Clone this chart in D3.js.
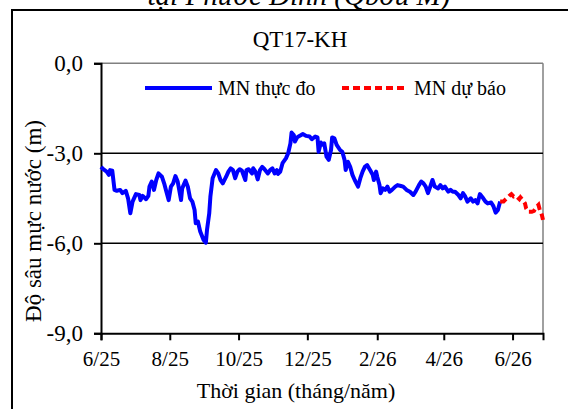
<!DOCTYPE html>
<html><head><meta charset="utf-8">
<script src="https://cdn.jsdelivr.net/npm/d3@7/dist/d3.min.js"></script>
<style>html,body{margin:0;padding:0;background:#fff;}svg text{font-family:"Liberation Serif","Times New Roman",Times,serif;}</style>
</head><body>
<svg id="c" width="568" height="409"></svg>
<script>
const obsDates = ["2025-06-01","2025-06-03","2025-06-06","2025-06-08","2025-06-09","2025-06-11","2025-06-13","2025-06-15","2025-06-18","2025-06-20","2025-06-23","2025-06-25","2025-06-27","2025-06-29","2025-07-02","2025-07-05","2025-07-06","2025-07-08","2025-07-11","2025-07-13","2025-07-14","2025-07-16","2025-07-18","2025-07-20","2025-07-22","2025-07-25","2025-07-27","2025-07-29","2025-07-31","2025-08-02","2025-08-04","2025-08-06","2025-08-08","2025-08-11","2025-08-12","2025-08-15","2025-08-17","2025-08-19","2025-08-21","2025-08-23","2025-08-24","2025-08-26","2025-08-28","2025-08-31","2025-09-02","2025-09-03","2025-09-05","2025-09-06","2025-09-08","2025-09-11","2025-09-13","2025-09-15","2025-09-17","2025-09-20","2025-09-22","2025-09-24","2025-09-26","2025-09-28","2025-09-30","2025-10-02","2025-10-04","2025-10-07","2025-10-08","2025-10-10","2025-10-13","2025-10-14","2025-10-16","2025-10-18","2025-10-20","2025-10-22","2025-10-24","2025-10-27","2025-10-29","2025-10-31","2025-11-02","2025-11-04","2025-11-05","2025-11-07","2025-11-09","2025-11-12","2025-11-14","2025-11-16","2025-11-17","2025-11-19","2025-11-20","2025-11-22","2025-11-24","2025-11-27","2025-11-30","2025-12-03","2025-12-05","2025-12-08","2025-12-10","2025-12-11","2025-12-13","2025-12-15","2025-12-16","2025-12-18","2025-12-20","2025-12-22","2025-12-23","2025-12-25","2025-12-27","2025-12-30","2026-01-01","2026-01-03","2026-01-04","2026-01-06","2026-01-08","2026-01-10","2026-01-12","2026-01-15","2026-01-17","2026-01-19","2026-01-21","2026-01-23","2026-01-26","2026-01-28","2026-01-29","2026-01-31","2026-02-01","2026-02-03","2026-02-04","2026-02-06","2026-02-08","2026-02-10","2026-02-12","2026-02-14","2026-02-17","2026-02-19","2026-02-22","2026-02-24","2026-02-27","2026-03-02","2026-03-05","2026-03-07","2026-03-10","2026-03-12","2026-03-14","2026-03-16","2026-03-18","2026-03-20","2026-03-22","2026-03-24","2026-03-27","2026-03-29","2026-03-31","2026-04-02","2026-04-05","2026-04-07","2026-04-09","2026-04-11","2026-04-14","2026-04-16","2026-04-18","2026-04-20","2026-04-22","2026-04-25","2026-04-27","2026-04-29","2026-05-01","2026-05-03","2026-05-06","2026-05-08","2026-05-10","2026-05-13","2026-05-15","2026-05-17","2026-05-19","2026-05-21"];
const obsValues = [-3.45,-3.53,-3.61,-3.72,-3.56,-3.58,-4.22,-4.25,-4.22,-4.33,-4.25,-4.50,-5.00,-4.61,-4.36,-4.39,-4.56,-4.42,-4.53,-4.42,-4.11,-3.94,-4.22,-3.89,-3.67,-3.78,-4.00,-4.28,-4.56,-4.11,-4.00,-3.76,-3.94,-4.56,-4.17,-3.91,-4.11,-4.50,-4.61,-4.89,-5.33,-5.28,-5.61,-5.89,-5.98,-5.56,-5.00,-4.45,-3.83,-3.56,-3.67,-3.89,-4.00,-3.78,-3.61,-3.50,-3.56,-3.83,-3.61,-3.53,-3.58,-3.89,-3.56,-3.53,-3.67,-3.50,-3.61,-3.87,-3.56,-3.45,-3.53,-3.67,-3.56,-3.50,-3.67,-3.56,-3.69,-3.61,-3.33,-3.17,-3.00,-2.67,-2.31,-2.39,-2.61,-2.47,-2.42,-2.36,-2.42,-2.44,-2.53,-2.44,-2.47,-2.95,-2.64,-2.72,-2.67,-3.11,-3.22,-2.89,-2.47,-2.50,-2.72,-2.89,-2.95,-3.22,-3.56,-3.28,-3.45,-3.72,-3.89,-4.11,-3.83,-3.61,-3.45,-3.39,-3.58,-3.72,-3.89,-3.61,-3.78,-4.06,-4.33,-4.17,-4.22,-4.11,-4.28,-4.22,-4.11,-4.06,-4.09,-4.11,-4.22,-4.28,-4.39,-4.28,-4.06,-3.94,-4.00,-4.11,-4.33,-4.11,-3.89,-4.11,-4.17,-4.06,-4.17,-4.11,-4.28,-4.22,-4.28,-4.28,-4.39,-4.50,-4.33,-4.44,-4.61,-4.50,-4.61,-4.56,-4.67,-4.36,-4.50,-4.61,-4.67,-4.64,-4.76,-4.98,-4.89,-4.61];
const fcDates = ["2026-05-21","2026-05-24","2026-05-26","2026-05-29","2026-05-31","2026-06-02","2026-06-04","2026-06-07","2026-06-08","2026-06-10","2026-06-12","2026-06-13","2026-06-15","2026-06-18","2026-06-20","2026-06-22","2026-06-24","2026-06-25","2026-06-27","2026-06-28"];
const fcValues = [-4.61,-4.61,-4.53,-4.42,-4.36,-4.44,-4.42,-4.53,-4.47,-4.56,-4.67,-4.83,-4.95,-4.95,-4.92,-4.80,-4.72,-4.86,-5.06,-5.22];
const yTicks = [0, -3, -6, -9];
const gridValues = [-3, -6];
const xTickDates = ["2025-06-01","2025-08-01","2025-10-01","2025-12-01","2026-02-01","2026-04-01","2026-06-01"];
const xTickLabels = ["6/25","8/25","10/25","12/25","2/26","4/26","6/26"];
const xDomain = ["2025-06-01","2026-06-28"];
const legendLabels = ["MN thực đo","MN dự báo"];
const chartTitle = "QT17-KH";
const topText = "tại Phước Đinh (Qbơu M)";
const yTitle = "Độ sâu mực nước (m)";
const xTitle = "Thời gian  (tháng/năm)";

const FONT = "'Liberation Serif','Times New Roman',Times,serif";
const parse = d3.timeParse("%Y-%m-%d");
const svg = d3.select("#c");
const L = 101, R = 543, T = 63.3, B = 333.3;

const x = d3.scaleTime().domain(xDomain.map(parse)).range([L, R]);
const y = d3.scaleLinear().domain([-9, 0]).range([B, T]);

// outer frame
svg.append("rect").attr("x", 12).attr("y", 10).attr("width", 620).attr("height", 450)
  .attr("fill", "none").attr("stroke", "#000").attr("stroke-width", 2);

// top clipped text
svg.append("text").attr("x", 299).attr("y", 5).attr("text-anchor", "middle")
  .attr("font-family", FONT).attr("font-size", 29).attr("font-style", "italic").text(topText);

// title
svg.append("text").attr("x", 300).attr("y", 47).attr("text-anchor", "middle")
  .attr("font-family", FONT).attr("font-size", 23).text(chartTitle);

// plot border (gray top/right)
svg.append("line").attr("x1", L).attr("x2", R).attr("y1", y(0)).attr("y2", y(0))
  .attr("stroke", "#808080").attr("stroke-width", 1.5);
svg.append("line").attr("x1", R).attr("x2", R).attr("y1", y(0)).attr("y2", y(-9))
  .attr("stroke", "#808080").attr("stroke-width", 1.5);

// gridlines
svg.selectAll(".grid").data(gridValues).join("line").attr("class", "grid")
  .attr("x1", L).attr("x2", R).attr("y1", d => y(d)).attr("y2", d => y(d))
  .attr("stroke", "#000").attr("stroke-width", 1.5);

// y axis
const yAxis = d3.axisLeft(y).tickValues(yTicks).tickSize(7).tickPadding(11)
  .tickFormat(d => d3.format(".1f")(d).replace(".", ",").replace("−", "-"));
const gy = svg.append("g").attr("transform", `translate(${L},0)`).call(yAxis)
  .attr("font-family", FONT).attr("font-size", 23);
gy.select(".domain").attr("stroke", "#000").attr("stroke-width", 2);
gy.selectAll(".tick line").attr("stroke", "#000").attr("stroke-width", 2);
gy.selectAll(".tick text").attr("fill", "#000");

// x axis
const xAxis = d3.axisBottom(x).tickValues(xTickDates.map(parse)).tickSize(7).tickPadding(11)
  .tickFormat((d, i) => xTickLabels[i]);
const gx = svg.append("g").attr("transform", `translate(0,${B})`).call(xAxis)
  .attr("font-family", FONT).attr("font-size", 21);
gx.select(".domain").attr("stroke", "#000").attr("stroke-width", 2);
gx.selectAll(".tick line").attr("stroke", "#000").attr("stroke-width", 2);
gx.selectAll(".tick text").attr("fill", "#000");

// axis titles
svg.append("text").attr("transform", "translate(41,221) rotate(-90)").attr("text-anchor", "middle")
  .attr("font-family", FONT).attr("font-size", 23).text(yTitle);
svg.append("text").attr("x", 296).attr("y", 398).attr("text-anchor", "middle")
  .attr("font-family", FONT).attr("font-size", 22).text(xTitle);

// lines
const line = d3.line().x(d => x(d.date)).y(d => y(d.value));
const obs = obsDates.map((d, i) => ({date: parse(d), value: obsValues[i]}));
const fc = fcDates.map((d, i) => ({date: parse(d), value: fcValues[i]}));
svg.append("path").datum(obs).attr("d", line).attr("fill", "none")
  .attr("stroke", "#0000FF").attr("stroke-width", 4).attr("stroke-linejoin", "round");
svg.append("path").datum(fc).attr("d", line).attr("fill", "none")
  .attr("stroke", "#FF0000").attr("stroke-width", 4).attr("stroke-dasharray", "7,4");

// legend
const lg = svg.append("g");
lg.append("line").attr("x1", 145).attr("x2", 212).attr("y1", 88).attr("y2", 88)
  .attr("stroke", "#0000FF").attr("stroke-width", 4);
lg.append("text").attr("x", 218).attr("y", 95).attr("font-family", FONT).attr("font-size", 20).text(legendLabels[0]);
lg.append("line").attr("x1", 342).attr("x2", 408).attr("y1", 88).attr("y2", 88)
  .attr("stroke", "#FF0000").attr("stroke-width", 4).attr("stroke-dasharray", "7,4");
lg.append("text").attr("x", 414).attr("y", 95).attr("font-family", FONT).attr("font-size", 20).text(legendLabels[1]);
</script>
</body></html>
